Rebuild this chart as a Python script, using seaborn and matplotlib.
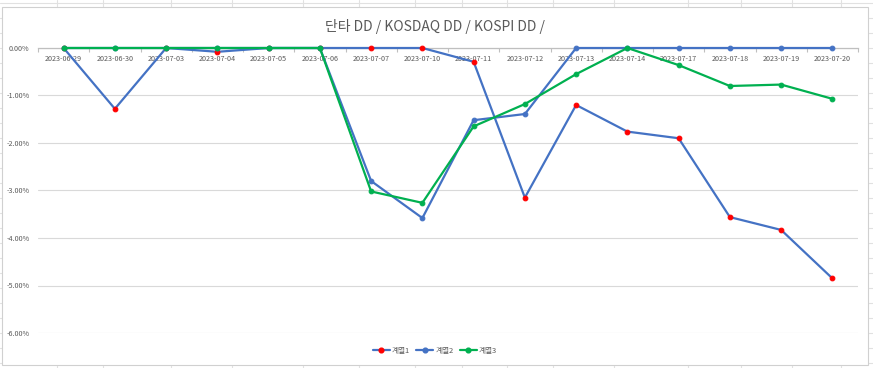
import numpy as np
import pandas as pd
import matplotlib
matplotlib.use("Agg")
import matplotlib.pyplot as plt
import seaborn as sns
from matplotlib.ticker import PercentFormatter, FixedLocator
from matplotlib.patches import Rectangle
from matplotlib.lines import Line2D

# data (drawdown, fraction)
dates = ["2023-06-29", "2023-06-30", "2023-07-03", "2023-07-04", "2023-07-05",
         "2023-07-06", "2023-07-07", "2023-07-10", "2023-07-11", "2023-07-12",
         "2023-07-13", "2023-07-14", "2023-07-17", "2023-07-18", "2023-07-19",
         "2023-07-20"]
series1 = [0.0, -0.0128, 0.0, -0.0008, 0.0, 0.0, 0.0, 0.0, -0.0029, -0.0315,
           -0.0120, -0.0176, -0.0190, -0.0356, -0.0383, -0.0485]
series2 = [0.0, 0.0, 0.0, 0.0, 0.0, 0.0, -0.0280, -0.0358, -0.0152, -0.0139,
           0.0, 0.0, 0.0, 0.0, 0.0, 0.0]
series3 = [0.0, 0.0, 0.0, 0.0, 0.0, 0.0, -0.0302, -0.0326, -0.0165, -0.0118,
           -0.0055, 0.0, -0.0036, -0.0080, -0.0077, -0.0107]
names = ["계열1", "계열2", "계열3"]
title = "단타 DD / KOSDAQ DD / KOSPI DD /"

df = pd.DataFrame({"idx": np.arange(len(dates)), "s1": series1, "s2": series2, "s3": series3})

sns.set_theme(style="white")
plt.rcParams['font.family'] = ['Noto Sans CJK KR', 'DejaVu Sans']
plt.rcParams['axes.unicode_minus'] = False

W, H = 873, 368
fig = plt.figure(figsize=(W / 100, H / 100), dpi=100)

# excel sheet behind the chart
bg = fig.add_axes([0, 0, 1, 1])
bg.set_xlim(0, W)
bg.set_ylim(H, 0)
bg.axis("off")
for x in [57, 103, 171, 232, 303, 359, 415, 462, 507, 553, 614, 688, 741, 792, 841]:
    bg.plot([x, x], [0, H], color="#e1e1e1", lw=0.8, zorder=0)
for y in range(0, H, 15):
    bg.plot([0, W], [y + 3, y + 3], color="#e1e1e1", lw=0.8, zorder=0)
bg.add_patch(Rectangle((2, 7), 866, 358, facecolor="white", edgecolor="#d0d0d0", lw=0.8, zorder=1))

blue, green, red = "#4472C4", "#00B050", "#FF0000"
left, right, top, bot = 38, 858, 48, 333
ax = fig.add_axes([left / W, 1 - bot / H, (right - left) / W, (bot - top) / H])
ax.set_facecolor("none")

ms = 3.4
style = dict(lw=1.6, marker="o", ms=ms, sort=False, clip_on=False, zorder=3)
sns.lineplot(data=df, x="idx", y="s1", ax=ax, color=blue,
             markerfacecolor=red, markeredgecolor=red, label=names[0], **style)
sns.lineplot(data=df, x="idx", y="s2", ax=ax, color=blue,
             markerfacecolor=blue, markeredgecolor=blue, label=names[1], **style)
sns.lineplot(data=df, x="idx", y="s3", ax=ax, color=green,
             markerfacecolor=green, markeredgecolor=green, label=names[2], **style)

ax.set_xlim(-0.5, len(dates) - 0.5)
ax.set_ylim(-0.06, 0.0)
ax.yaxis.set_major_locator(FixedLocator(np.arange(-0.06, 0.001, 0.01)))
ax.yaxis.set_major_formatter(PercentFormatter(xmax=1, decimals=2))
ax.grid(axis="y", color="#d9d9d9", lw=0.8)
ax.set_axisbelow(True)
ax.set_xlabel("")
ax.set_ylabel("")

ax.xaxis.set_ticks_position("top")
ax.set_xticks(np.arange(len(dates)))
ax.set_xticklabels(dates)
ax.set_xticks(np.arange(-0.5, len(dates)), minor=True)
ax.tick_params(axis="x", which="major", top=False, bottom=False, labeltop=True,
               labelbottom=False, pad=-17, labelsize=5.2, labelcolor="#595959")
ax.tick_params(axis="x", which="minor", top=True, direction="in", length=3,
               color="#bfbfbf", width=0.8)
ax.tick_params(axis="y", length=0, pad=6, labelsize=5.2, labelcolor="#595959")
for s in ["left", "right", "bottom"]:
    ax.spines[s].set_visible(False)
ax.spines["top"].set_color("#bfbfbf")
ax.spines["top"].set_linewidth(0.9)
ax.spines["top"].set_zorder(1)

fig.text(435 / W, 1 - 27 / H, title, ha="center", va="center", fontsize=10, color="#595959")

hstyle = dict(lw=1.6, marker="o", ms=ms)
handles = [
    Line2D([], [], color=blue, markerfacecolor=red, markeredgecolor=red, **hstyle),
    Line2D([], [], color=blue, markerfacecolor=blue, markeredgecolor=blue, **hstyle),
    Line2D([], [], color=green, markerfacecolor=green, markeredgecolor=green, **hstyle),
]
ax.legend(handles, names, loc="center", bbox_to_anchor=(435 / W, 1 - 351 / H),
          bbox_transform=fig.transFigure, ncol=3, frameon=False, fontsize=5.5,
          handlelength=2.2, handletextpad=0.3, columnspacing=0.8, labelcolor="#595959")

fig.savefig("out.png", dpi=100)
